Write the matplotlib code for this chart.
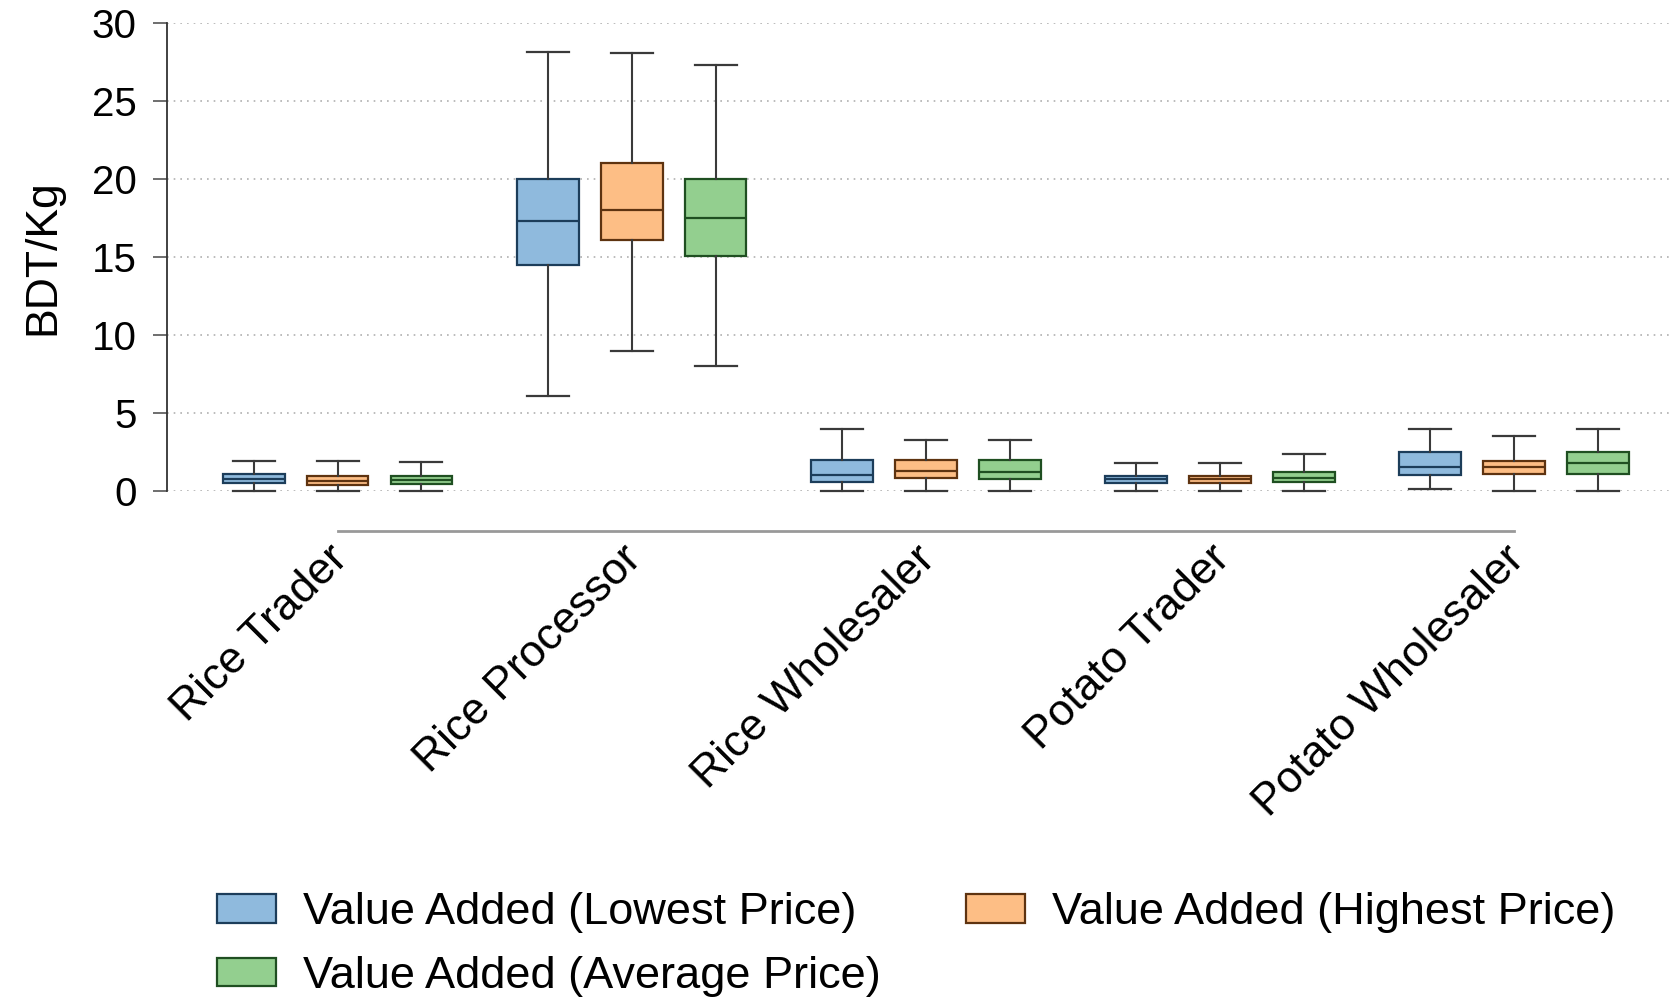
import matplotlib
matplotlib.use("Agg")
import matplotlib.pyplot as plt
import matplotlib.transforms as mtransforms
from matplotlib.patches import Patch

plt.rcParams['font.family'] = ['Liberation Sans', 'DejaVu Sans']

categories = ["Rice Trader", "Rice Processor", "Rice Wholesaler",
              "Potato Trader", "Potato Wholesaler"]
series_names = ["Value Added (Lowest Price)", "Value Added (Highest Price)",
                "Value Added (Average Price)"]

# five-number summaries, one list per statistic
lowest_whislo = [0.0, 6.1, 0.0, 0.0, 0.1]
lowest_q1 = [0.5, 14.5, 0.6, 0.53, 1.03]
lowest_med = [0.75, 17.3, 1.03, 0.75, 1.52]
lowest_q3 = [1.07, 20.0, 2.0, 0.98, 2.5]
lowest_whishi = [1.92, 28.15, 4.0, 1.77, 4.0]

highest_whislo = [0.0, 9.0, 0.0, 0.0, 0.0]
highest_q1 = [0.38, 16.1, 0.83, 0.53, 1.07]
highest_med = [0.66, 18.0, 1.28, 0.75, 1.56]
highest_q3 = [0.98, 21.0, 2.0, 0.98, 1.95]
highest_whishi = [1.92, 28.05, 3.25, 1.77, 3.53]

average_whislo = [0.0, 8.0, 0.0, 0.0, 0.0]
average_q1 = [0.45, 15.05, 0.75, 0.58, 1.07]
average_med = [0.7, 17.5, 1.2, 0.85, 1.77]
average_q3 = [0.98, 20.0, 2.0, 1.22, 2.5]
average_whishi = [1.84, 27.3, 3.25, 2.39, 4.0]

y_ticks = [0, 5, 10, 15, 20, 25, 30]

fills = ["#8fbadd", "#fdbe85", "#93cf8f"]
edges = ["#1c3d5a", "#5e3310", "#1f4f21"]
whisk_col = "#3a3a3a"

all_stats = [
    (lowest_whislo, lowest_q1, lowest_med, lowest_q3, lowest_whishi),
    (highest_whislo, highest_q1, highest_med, highest_q3, highest_whishi),
    (average_whislo, average_q1, average_med, average_q3, average_whishi),
]

fig = plt.figure(figsize=(16.7, 9.97), dpi=100)
ax = fig.add_axes([0.1, 0.5075, 0.9, 0.4695])

offsets = [-0.285, 0.0, 0.285]
box_w = 0.21

for s, (lo, q1, med, q3, hi) in enumerate(all_stats):
    stats = []
    for i in range(len(categories)):
        stats.append(dict(whislo=lo[i], q1=q1[i], med=med[i], q3=q3[i],
                          whishi=hi[i], fliers=[]))
    pos = [i + offsets[s] for i in range(len(categories))]
    art = ax.bxp(stats, positions=pos, widths=box_w, patch_artist=True,
                 showfliers=False, manage_ticks=False,
                 boxprops=dict(facecolor=fills[s], edgecolor=edges[s], linewidth=1.6),
                 medianprops=dict(color=edges[s], linewidth=1.6),
                 whiskerprops=dict(color=whisk_col, linewidth=1.5),
                 capprops=dict(color=whisk_col, linewidth=1.6),
                 capwidths=box_w * 0.68)
    for group in art.values():
        for a in group:
            a.set_clip_on(False)

ax.set_xlim(-0.58, 4.53)
ax.set_ylim(0, 30)
ax.set_yticks(y_ticks)
ax.set_yticklabels([str(t) for t in y_ticks], fontsize=29)
ax.tick_params(axis='y', length=10, width=1.2, color='#555555', pad=12)
ax.set_ylabel("BDT/Kg", fontsize=32, labelpad=20)

ax.yaxis.grid(True, linestyle=(0, (1, 3)), color='#b0b0b0', linewidth=1.2)
ax.set_axisbelow(True)

for side in ['top', 'right']:
    ax.spines[side].set_visible(False)
ax.spines['left'].set_color('#333333')
ax.spines['left'].set_linewidth(1.3)
ax.spines['bottom'].set_position(('outward', 29))
ax.spines['bottom'].set_bounds(0, len(categories) - 1)
ax.spines['bottom'].set_color('#999999')
ax.spines['bottom'].set_linewidth(2)

ax.set_xticks(range(len(categories)))
ax.set_xticklabels(categories, rotation=45, ha='right', va='top',
                   rotation_mode='anchor', fontsize=32)
ax.tick_params(axis='x', length=0, pad=5)
shift = mtransforms.ScaledTranslation(-8 / 72, 0, fig.dpi_scale_trans)
for lab in ax.get_xticklabels():
    lab.set_transform(lab.get_transform() + shift)

handles = [Patch(facecolor=fills[k], edgecolor=edges[k], linewidth=1.6,
                 label=series_names[k]) for k in range(3)]
order = [0, 2, 1]
fig.legend([handles[k] for k in order], [series_names[k] for k in order],
           loc='upper left', bbox_to_anchor=(0.13, 0.105), ncol=2,
           frameon=False, fontsize=32.5, handlelength=1.3, handleheight=0.6,
           handletextpad=0.6, columnspacing=1.9, labelspacing=0.5,
           borderaxespad=0, borderpad=0)

fig.savefig("out.png", dpi=100)
